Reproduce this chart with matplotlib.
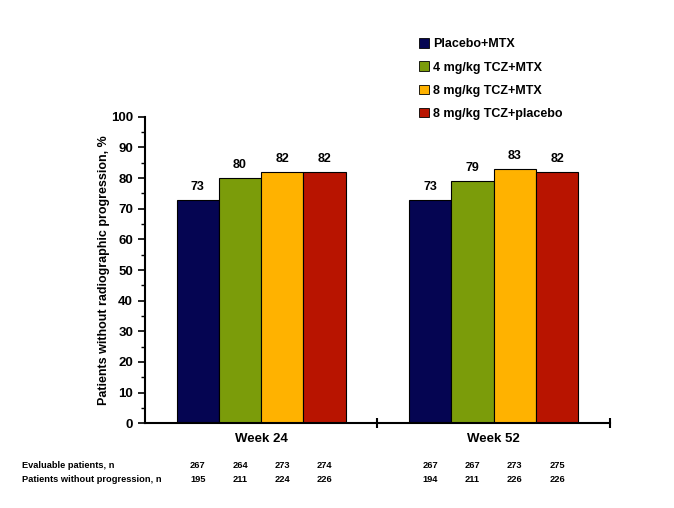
import numpy as np
import matplotlib.pyplot as plt
from matplotlib.patches import Rectangle

plt.rcParams["font.family"] = ["Liberation Sans", "DejaVu Sans"]

# data
weeks = ["Week 24", "Week 52"]
groups = ["Placebo+MTX", "4 mg/kg TCZ+MTX", "8 mg/kg TCZ+MTX", "8 mg/kg TCZ+placebo"]
colors = ["#050552", "#7b9c0a", "#ffb200", "#b81400"]
pct = [[73, 80, 82, 82],
       [73, 79, 83, 82]]
evaluable = [[267, 264, 273, 274],
             [267, 267, 273, 275]]
no_prog = [[195, 211, 224, 226],
           [194, 211, 226, 226]]

fig = plt.figure(figsize=(6.74, 5.08), dpi=100)
ax = fig.add_axes([0.215, 0.167, 0.69, 0.603])

width = 0.182
x = np.arange(len(weeks))
for i, g in enumerate(groups):
    pos = x + (i - 1.5) * width
    vals = [pct[w][i] for w in range(len(weeks))]
    ax.bar(pos, vals, width, color=colors[i], edgecolor="black", linewidth=0.8, label=g)
    for p, v in zip(pos, vals):
        ax.annotate(str(v), (p, v), xytext=(0, 5), textcoords="offset points",
                    ha="center", va="bottom", fontsize=9, fontweight="bold")

ax.set_xlim(-0.5, 1.5)
ax.set_ylim(0, 100)
ax.set_yticks(np.arange(0, 101, 10))
ax.set_yticks(np.arange(0, 101, 5), minor=True)
ax.set_xticks([])
ax.set_xticks([0.5, 1.5], minor=True)
ax.tick_params(axis="y", which="major", direction="out", length=5, width=1.2, labelsize=9.5)
ax.tick_params(axis="y", which="minor", direction="out", length=3, width=1.0)
ax.tick_params(axis="x", which="minor", direction="inout", length=7, width=1.5)
for lab in ax.get_yticklabels():
    lab.set_fontweight("bold")
for s in ["top", "right"]:
    ax.spines[s].set_visible(False)
ax.spines["left"].set_linewidth(1.5)
ax.spines["bottom"].set_linewidth(1.5)
ax.set_ylabel("Patients without radiographic progression, %", fontsize=9, fontweight="bold", labelpad=1)

for w, wk in enumerate(weeks):
    ax.text(x[w], -5.2, wk, ha="center", va="center", fontsize=9.5, fontweight="bold",
            transform=ax.transData)

# table below
row_y = [1 - 466 / 508, 1 - 479 / 508]
fig.text(22 / 674, row_y[0], "Evaluable patients, n", fontsize=6.7, fontweight="bold", va="center")
fig.text(22 / 674, row_y[1], "Patients without progression, n", fontsize=6.7, fontweight="bold", va="center")
for w in range(len(weeks)):
    for i in range(len(groups)):
        pos = x[w] + (i - 1.5) * width
        xf = fig.transFigure.inverted().transform(ax.transData.transform((pos, 0)))[0]
        fig.text(xf, row_y[0], str(evaluable[w][i]), fontsize=6.7, fontweight="bold",
                 ha="center", va="center")
        fig.text(xf, row_y[1], str(no_prog[w][i]), fontsize=6.7, fontweight="bold",
                 ha="center", va="center")

# legend
handles = [Rectangle((0, 0), 1, 1, facecolor=c, edgecolor="black", linewidth=0.6) for c in colors]
fig.legend(handles, groups, loc="upper left", bbox_to_anchor=(408 / 674, 1 - 27 / 508),
           frameon=False, handlelength=0.8, handleheight=0.8, handletextpad=0.3,
           labelspacing=0.88, prop={"weight": "bold", "size": 9})

fig.savefig("out.png", dpi=100)
